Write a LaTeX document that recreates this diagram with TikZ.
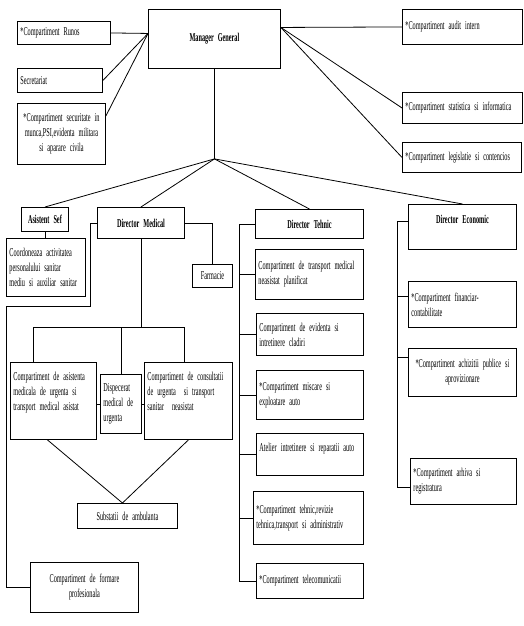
\documentclass[tikz,border=0pt]{standalone}
\usepackage{fontspec}
\setmainfont{Liberation Serif}[FakeStretch=0.52, WordSpace=0.7]
\usepackage{tikz}
\usetikzlibrary{positioning}

\tikzset{
  box/.style={draw, line width=0.9pt, anchor=north west, inner xsep=3pt, inner ysep=2pt, align=left},
  cell/.code 2 args={\pgfmathsetmacro\cellw{#1-5}\tikzset{minimum width=#1pt, minimum height=#2pt, text width/.expanded=\cellw pt}},
  head/.style={font=\bfseries, align=center},
}

\begin{document}
\fontsize{12}{15}\selectfont
\hyphenpenalty=10000
\begin{tikzpicture}[x=1pt, y=-1pt, line width=0.8pt]
\path[use as bounding box] (0,0) rectangle (523,626);

\node[box, cell={92}{23}] (runos) at (17,21) {*Compartiment Runos};
\node[box, cell={84}{24}] (secr) at (17,68) {Secretariat};
\node[box, cell={87}{61}, align=center] (secu) at (17,103) {*Compartiment securitate in\\ munca,PSI,evidenta militara\\ si aparare civila};
\node[box, cell={131}{59}, head] (mg) at (148,9) {Manager General};
\node[box, cell={119}{35}] (audit) at (402,9) {*Compartiment audit intern};
\node[box, cell={119}{31}] (stat) at (402,92) {*Compartiment statistica si informatica};
\node[box, cell={118}{30}] (legis) at (402,142) {*Compartiment legislatie si contencios};

\node[box, cell={46}{24}, head] (asef) at (21,207) {Asistent Sef};
\node[box, cell={78}{58}] (coord) at (6,238) {Coordoneaza activitatea\\ personalului sanitar\\ mediu si auxiliar sanitar};
\node[box, cell={86}{31}, head] (dmed) at (97,207) {Director Medical};
\node[box, cell={39}{23}, align=center] (farm) at (192,264) {Farmacie};
\node[box, cell={85}{77}] (amu) at (10,362) {Compartiment de asistenta\\ medicala de urgenta si\\ transport medical asistat\\[4pt]~};
\node[box, cell={40}{59}] (disp) at (100,374) {Dispecerat\\ medical de\\ urgenta};
\node[box, cell={87}{77}] (cons) at (144,362) {Compartiment de consultatii\\ de urgenta~ si transport\\ sanitar~ neasistat\\[4pt]~};
\node[box, cell={99}{25}, align=center] (sub) at (77,503) {Substatii de ambulanta};
\node[box, cell={107}{50}, align=center] (form) at (30,562) {Compartiment de formare\\ profesionala};

\node[box, cell={107}{29}, head] (dtech) at (255,209) {Director Tehnic};
\node[box, cell={107}{50}] (trans) at (255,249) {Compartiment de transport medical\\ neasistat planificat};
\node[box, cell={106}{42}] (evid) at (256,313) {Compartiment de evidenta si\\ intretinere cladiri};
\node[box, cell={106}{49}] (misc) at (256,370) {*Compartiment miscare si\\ exploatare auto};
\node[box, cell={106}{42}] (atel) at (256,433) {Atelier intretinere si reparatii auto\\~};
\node[box, cell={109}{53}] (revz) at (253,491) {*Compartiment tehnic,revizie\\ tehnica,transport si administrativ};
\node[box, cell={106}{35}] (tele) at (256,563) {*Compartiment telecomunicatii};

\node[box, cell={107}{45}, head] (decon) at (408,204) {Director Economic\\~};
\node[box, cell={107}{46}] (fin) at (408,281) {*Compartiment financiar-\\ contabilitate};
\node[box, cell={107}{48}, align=center] (ach) at (408,348) {*Compartiment achizitii publice si\\ aprovizionare};
\node[box, cell={105}{46}] (arh) at (410,458) {*Compartiment arhiva si\\ registratura};

\coordinate (mgL) at ([yshift=5.5pt]mg.west);
\coordinate (mgR) at ([yshift=11.5pt]mg.east);
\coordinate (hub) at ([yshift=-90pt]mg.south);
\draw (runos.east) -- (mgL) -- (secr.east);
\draw (mgL) -- ([yshift=18pt]secu.east);
\foreach \b in {audit,stat,legis}
  \draw (mgR) -- (\b.west);
\draw (mg.south) -- (hub);
\foreach \b in {asef,dmed,dtech,decon}
  \draw (hub) -- (\b.north);

% medical branch
\draw (asef.south) -- (asef.south |- coord.north);
\draw (dmed.east) -| (farm.north);
\coordinate (bend) at (6,306);
\draw (dmed.west) -- ++(-7,0) |- (bend) |- (form.west);
\coordinate (barL) at (33,327);
\coordinate (barR) at (184,327);
\draw (dmed.south) -- (dmed.south |- barL);
\draw (barL |- amu.north) -- (barL) -- (barR) -- (barR |- cons.north);
\draw (disp.north) -- (disp.north |- barL);
\draw (disp.west) -- (disp.west -| amu.east);
\draw (disp.east) -- (disp.east -| cons.west);
\draw ([xshift=-6pt]amu.south) -- ([xshift=-5pt]sub.north) -- (cons.south);

% technical branch
\coordinate (tsp) at (239,0);
\draw (dtech.west) -- (dtech.west -| tsp) |- (tele.west);
\foreach \b in {trans,evid,misc,atel,revz}
  \draw (\b.west) -- (\b.west -| tsp);

% economic branch
\coordinate (esp) at (397,0);
\coordinate (arhC) at ([yshift=-6pt]arh.west);
\draw ([yshift=5.5pt]decon.west) -| (arhC -| esp) -- (arhC);
\draw ([yshift=8pt]fin.west) -- ++(-11,0);
\draw ([yshift=15pt]ach.west) -- ++(-11,0);
\end{tikzpicture}
\end{document}
